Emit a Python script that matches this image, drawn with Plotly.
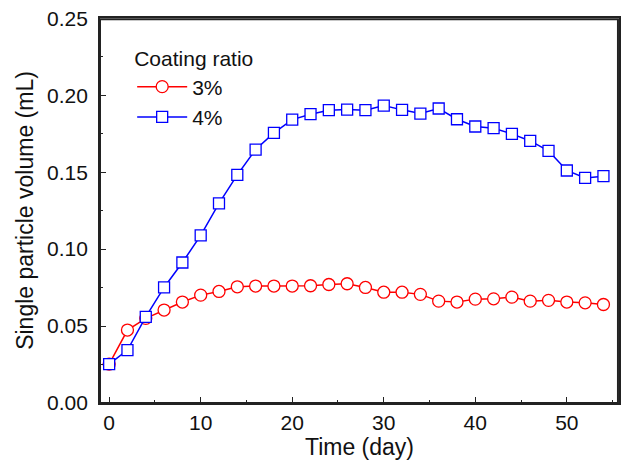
import plotly.graph_objects as go

days = list(range(0, 56, 2))
ratio_3 = [0.0253, 0.0474, 0.0550, 0.0604, 0.0656, 0.0701, 0.0725, 0.0755, 0.0760, 0.0760,
           0.0760, 0.0762, 0.0770, 0.0775, 0.0751, 0.0720, 0.0720, 0.0706, 0.0662, 0.0656,
           0.0675, 0.0677, 0.0688, 0.0662, 0.0667, 0.0656, 0.0651, 0.0640]
ratio_4 = [0.0253, 0.0344, 0.0560, 0.0751, 0.0913, 0.1089, 0.1297, 0.1483, 0.1647, 0.1755,
           0.1842, 0.1877, 0.1903, 0.1907, 0.1903, 0.1933, 0.1905, 0.1881, 0.1914, 0.1844,
           0.1797, 0.1786, 0.1749, 0.1703, 0.1638, 0.1511, 0.1463, 0.1474]
series_names = ["3%", "4%"]
legend_title = "Coating ratio"
y_ticks = [0.00, 0.05, 0.10, 0.15, 0.20, 0.25]
x_ticks = [0, 10, 20, 30, 40, 50]

FONT = "Liberation Sans, Arial, sans-serif"

fig = go.Figure()
fig.add_trace(go.Scatter(
    x=days, y=ratio_3, name=series_names[0], mode="lines+markers",
    line=dict(color="#ff0000", width=1.5),
    marker=dict(symbol="circle", size=12, color="white", line=dict(color="#ff0000", width=1.3)),
))
fig.add_trace(go.Scatter(
    x=days, y=ratio_4, name=series_names[1], mode="lines+markers",
    line=dict(color="#0000ff", width=1.5),
    marker=dict(symbol="square", size=11, color="white", line=dict(color="#0000ff", width=1.3)),
))

axis_common = dict(
    showline=True, linecolor="#222", linewidth=1.8, mirror=True,
    ticks="inside", ticklen=6, tickwidth=1.2, tickcolor="#222",
    showgrid=False, zeroline=False, automargin=False,
    ticklabeloverflow="allow",
    tickfont=dict(family=FONT, size=21, color="#111"),
)

fig.update_xaxes(
    range=[-1, 55.7], tickvals=x_ticks,
    minor=dict(ticks="inside", ticklen=3, tickwidth=1.2, tickcolor="#222", dtick=5, tick0=0),
    title=dict(text="Time (day)", font=dict(family=FONT, size=23, color="#111"), standoff=3),
    **axis_common,
)
fig.update_yaxes(
    range=[0, 0.2502], tickvals=y_ticks, tickformat=".2f",
    ticklabelstandoff=6,
    minor=dict(ticks="inside", ticklen=3, tickwidth=1.2, tickcolor="#222", dtick=0.025),
    title=dict(text="Single particle volume (mL)", font=dict(family=FONT, size=23, color="#111"), standoff=7),
    **axis_common,
)

# plot frame, slightly inset so the top and right edges are drawn inside the plot area
fig.add_shape(type="rect", xref="paper", yref="paper", x0=0.0, x1=0.998, y0=0.0, y1=0.997,
              line=dict(color="#222", width=2), fillcolor="rgba(0,0,0,0)", layer="above")

fig.update_layout(
    width=625, height=462,
    margin=dict(l=100, r=6, t=18, b=59),
    paper_bgcolor="white", plot_bgcolor="white",
    showlegend=True,
    legend=dict(
        title=dict(text=legend_title, font=dict(family=FONT, size=21, color="#111")),
        font=dict(family=FONT, size=21, color="#111"),
        x=0.062, y=0.945, xanchor="left", yanchor="top",
        bgcolor="rgba(0,0,0,0)", tracegroupgap=0, itemwidth=50,
    ),
)

fig.write_html(
    "out.html",
    config={"displayModeBar": False},
    post_script="document.body.style.margin='0';document.body.style.overflow='hidden';",
)
